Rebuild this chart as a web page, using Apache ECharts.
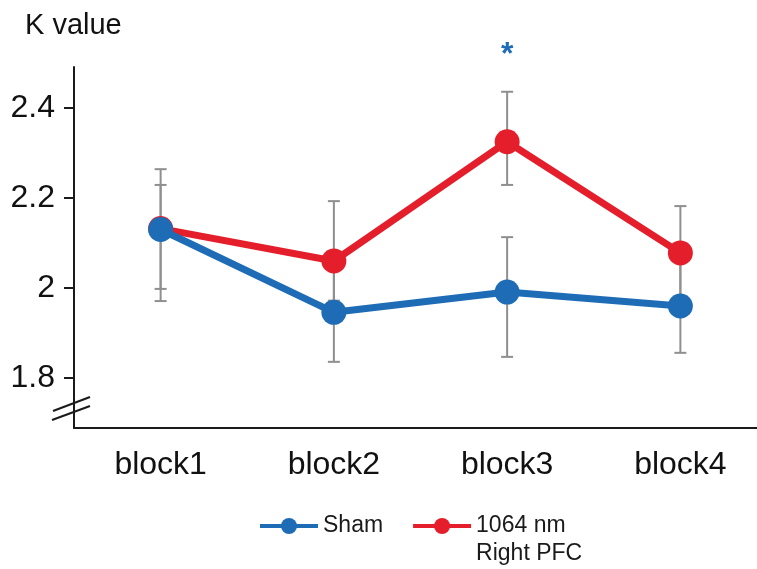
<!DOCTYPE html>
<html>
<head>
<meta charset="utf-8">
<script src="https://cdn.jsdelivr.net/npm/echarts@6/dist/echarts.min.js"></script>
<style>
html,body{margin:0;padding:0;background:#fff;}
#chart{width:757px;height:569px;}
</style>
</head>
<body>
<div id="chart"></div>
<script>
// ---- data ----
const categories = ['block1', 'block2', 'block3', 'block4'];
const shamMean = [2.130, 1.946, 1.991, 1.960];
const shamHigh = [2.229, 2.056, 2.113, 2.060];
const shamLow  = [1.998, 1.836, 1.847, 1.856];
const laserMean = [2.132, 2.060, 2.325, 2.078];
const laserHigh = [2.264, 2.193, 2.436, 2.182];
const laserLow  = [1.971, 1.972, 2.229, 1.975];
const yTicks = [1.8, 2.0, 2.2, 2.4];
const shamName = 'Sham';
const laserName = '1064 nm Right PFC';
const laserLegendText = ' \n1064 nm\nRight PFC';
const starCategory = 'block3';
const starValue = 2.518;

const FONT = 'Liberation Sans, Arial, Helvetica, sans-serif';
const BLUE = '#1f6cb6';
const RED = '#e41e2b';
const GREY = '#8f8f8f';
const AXIS = '#1a1a1a';

function errData(lo, hi) {
  return categories.map((c, i) => [i, lo[i], hi[i]]);
}
function renderErr(params, api) {
  const x = api.value(0);
  const pHi = api.coord([x, api.value(2)]);
  const pLo = api.coord([x, api.value(1)]);
  const hw = 6;
  const st = { stroke: GREY, lineWidth: 2 };
  return {
    type: 'group',
    children: [
      { type: 'line', shape: { x1: pHi[0], y1: pHi[1], x2: pLo[0], y2: pLo[1] }, style: st },
      { type: 'line', shape: { x1: pHi[0] - hw, y1: pHi[1], x2: pHi[0] + hw, y2: pHi[1] }, style: st },
      { type: 'line', shape: { x1: pLo[0] - hw, y1: pLo[1], x2: pLo[0] + hw, y2: pLo[1] }, style: st }
    ]
  };
}

const breakMarks = [
  { id: 'brk1', type: 'line', shape: { x1: 52, y1: 420, x2: 90, y2: 406 }, style: { stroke: AXIS, lineWidth: 2 } },
  { id: 'brk2', type: 'line', shape: { x1: 53, y1: 411, x2: 90, y2: 397 }, style: { stroke: AXIS, lineWidth: 2 } }
];

const chart = echarts.init(document.getElementById('chart'), null, { renderer: 'canvas' });
const option = {
  animation: false,
  backgroundColor: '#fff',
  textStyle: { fontFamily: FONT },
  title: {
    text: 'K value',
    left: 25, top: 11, padding: 0,
    textStyle: { fontFamily: FONT, fontSize: 29, fontWeight: 'normal', color: '#111' }
  },
  grid: { left: 74, top: 67, width: 693, height: 361, containLabel: false, outerBoundsMode: 'none' },
  legend: {
    left: 258, top: 484, padding: 0,
    itemWidth: 58, itemHeight: 20, itemGap: 28,
    textStyle: { fontFamily: FONT, fontSize: 23, lineHeight: 28, color: '#1a1a1a' },
    lineStyle: { width: 4 },
    formatter: function (n) { return n === laserName ? laserLegendText : n; },
    data: [ { name: shamName }, { name: laserName } ]
  },
  xAxis: {
    type: 'category',
    data: categories,
    boundaryGap: true,
    axisLine: { lineStyle: { color: AXIS, width: 2 } },
    axisTick: { inside: true, alignWithLabel: true, length: 11, lineStyle: { color: AXIS, width: 2 } },
    axisLabel: { fontFamily: FONT, fontSize: 32, color: '#111', margin: 21 },
    splitLine: { show: false }
  },
  yAxis: {
    type: 'value',
    min: 1.689, max: 2.491,
    axisLine: { show: true, lineStyle: { color: AXIS, width: 2 } },
    axisTick: { show: true, length: 10, customValues: yTicks, lineStyle: { color: AXIS, width: 2 } },
    axisLabel: { fontFamily: FONT, fontSize: 32, color: '#111', margin: 19, customValues: yTicks },
    splitLine: { show: false }
  },
  series: [
    {
      type: 'custom', name: 'errLaser', z: 1, silent: true,
      renderItem: renderErr, data: errData(laserLow, laserHigh),
      encode: { x: 0, y: [1, 2] }
    },
    {
      type: 'custom', name: 'errSham', z: 1, silent: true,
      renderItem: renderErr, data: errData(shamLow, shamHigh),
      encode: { x: 0, y: [1, 2] }
    },
    {
      type: 'line', name: laserName, z: 3,
      data: laserMean,
      symbol: 'circle', symbolSize: 25,
      lineStyle: { color: RED, width: 7 },
      itemStyle: { color: RED }
    },
    {
      type: 'line', name: shamName, z: 4,
      data: shamMean,
      symbol: 'circle', symbolSize: 25,
      lineStyle: { color: BLUE, width: 7 },
      itemStyle: { color: BLUE }
    }
  ],
  graphic: breakMarks
};
chart.setOption(option);

// significance star placed through the chart's own scales
const starPos = chart.convertToPixel({ gridIndex: 0 }, [starCategory, starValue]);
chart.setOption({
  graphic: breakMarks.concat([{
    id: 'star', type: 'text', x: starPos[0], y: starPos[1],
    style: { text: '*', fill: BLUE, font: 'bold 32px ' + FONT, align: 'center', verticalAlign: 'middle' }
  }])
});
</script>
</body>
</html>
